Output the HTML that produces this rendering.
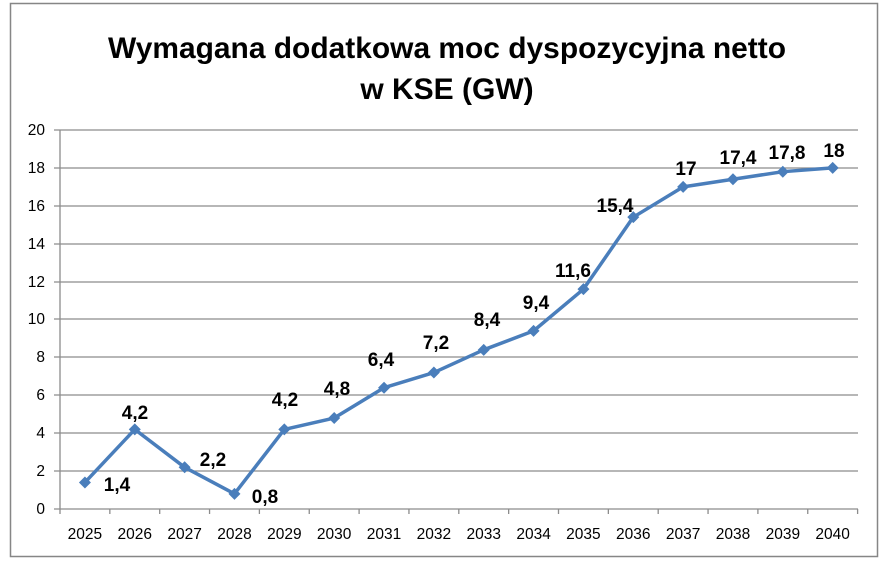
<!DOCTYPE html>
<html><head><meta charset="utf-8"><style>
body{margin:0;background:#fff;}
svg{display:block;font-family:"Liberation Sans",sans-serif;}
</style></head><body>
<svg width="886" height="561" viewBox="0 0 886 561">
<rect x="0" y="0" width="886" height="561" fill="#fff"/>
<rect x="10.5" y="3.5" width="867" height="553" fill="#fff" stroke="#868686" stroke-width="1.5"/>
<text x="447" y="58" text-anchor="middle" font-size="30" font-weight="bold" textLength="678" lengthAdjust="spacingAndGlyphs">Wymagana dodatkowa moc dyspozycyjna netto</text>
<text x="447" y="99" text-anchor="middle" font-size="30" font-weight="bold">w KSE (GW)</text>
<g stroke="#8c8c8c" stroke-width="1.3">
<line x1="54" y1="130" x2="858" y2="130"/><line x1="54" y1="168" x2="858" y2="168"/>
<line x1="54" y1="206" x2="858" y2="206"/><line x1="54" y1="244" x2="858" y2="244"/>
<line x1="54" y1="282" x2="858" y2="282"/><line x1="54" y1="319" x2="858" y2="319"/>
<line x1="54" y1="357" x2="858" y2="357"/><line x1="54" y1="395" x2="858" y2="395"/>
<line x1="54" y1="433" x2="858" y2="433"/><line x1="54" y1="471" x2="858" y2="471"/>
<line x1="54" y1="509" x2="858" y2="509"/>
<line x1="60" y1="130" x2="60" y2="514"/>
</g>
<g stroke="#8c8c8c" stroke-width="1.3" id="ticks"></g>
<g font-size="15.5" fill="#000" text-anchor="end">
<text x="45" y="135">20</text><text x="45" y="173">18</text><text x="45" y="211">16</text>
<text x="45" y="249">14</text><text x="45" y="287">12</text><text x="45" y="324">10</text>
<text x="45" y="362">8</text><text x="45" y="400">6</text><text x="45" y="438">4</text>
<text x="45" y="476">2</text><text x="45" y="514">0</text>
</g>
<g font-size="15.5" text-anchor="middle" id="xl"></g>
<polyline id="ln" fill="none" stroke="#4a7ebb" stroke-width="3.5" stroke-linejoin="round"/>
<g id="mk" fill="#4a7ebb"></g>
<g font-size="19" font-weight="bold" text-anchor="middle">
<text x="117" y="491">1,4</text><text x="135" y="419">4,2</text><text x="213" y="466">2,2</text>
<text x="265" y="503">0,8</text><text x="285" y="406">4,2</text><text x="337" y="395">4,8</text>
<text x="381" y="366">6,4</text><text x="436" y="349">7,2</text><text x="487" y="326">8,4</text>
<text x="536" y="309">9,4</text><text x="573" y="277">11,6</text><text x="615" y="212">15,4</text>
<text x="686" y="175">17</text><text x="738" y="164">17,4</text><text x="787" y="159">17,8</text>
<text x="834" y="157">18</text>
</g>
<script>
var v=[1.4,4.2,2.2,0.8,4.2,4.8,6.4,7.2,8.4,9.4,11.6,15.4,17,17.4,17.8,18];
var w=49.85,ns="http://www.w3.org/2000/svg",pts=[];
for(var i=0;i<16;i++){var x=60+w*(i+0.5),y=509-v[i]*18.95;pts.push(x+","+y);
var p=document.createElementNS(ns,"polygon");p.setAttribute("points",(x)+","+(y-6)+" "+(x+6)+","+y+" "+x+","+(y+6)+" "+(x-6)+","+y);document.getElementById("mk").appendChild(p);
var t=document.createElementNS(ns,"text");t.setAttribute("x",x);t.setAttribute("y",539);t.textContent=2025+i;document.getElementById("xl").appendChild(t);
var l=document.createElementNS(ns,"line");var tx=60+w*(i+1);l.setAttribute("x1",tx);l.setAttribute("x2",tx);l.setAttribute("y1",509);l.setAttribute("y2",514);document.getElementById("ticks").appendChild(l);}
document.getElementById("ln").setAttribute("points",pts.join(" "));
</script>
</svg>
</body></html>
